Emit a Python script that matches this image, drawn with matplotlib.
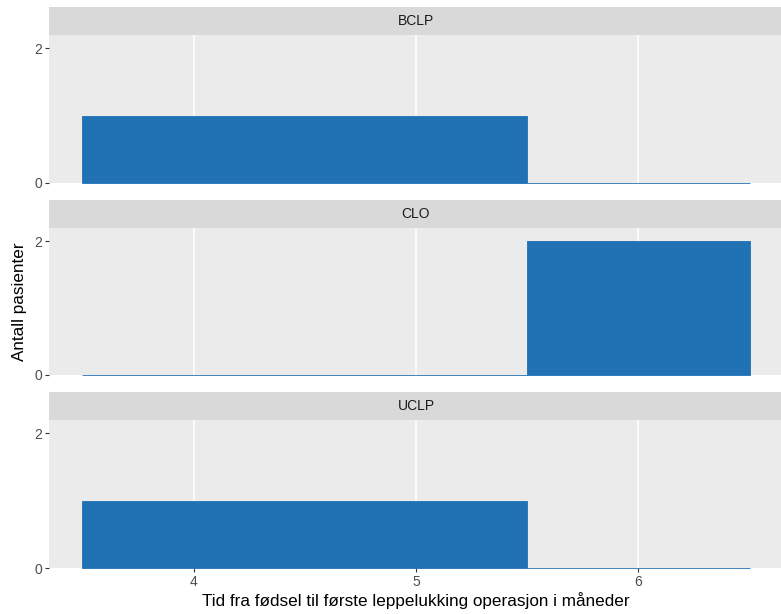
import matplotlib
matplotlib.use('Agg')
import matplotlib.pyplot as plt

# ── data ──
groups     = ['BCLP', 'CLO', 'UCLP']
bin_left   = [3.5, 5.5]
bin_width  = [2.0, 1.0]
counts     = {'BCLP': [1, 0], 'CLO': [0, 2], 'UCLP': [1, 0]}
x_ticks    = [4, 5, 6]
y_ticks    = [0, 2]

C_BAR   = '#2171b5'
C_PANEL = '#EBEBEB'
C_STRIP = '#D9D9D9'
C_TICK  = '#4D4D4D'

plt.rcParams['font.family'] = ['Liberation Sans', 'DejaVu Sans']

W, H = 781, 614
fig = plt.figure(figsize=(W / 100, H / 100), dpi=100)

# pixel layout (top of strip, top of panel, bottom of panel)
rows = [(7, 35, 183), (200, 228, 375), (392, 420, 568)]
left, right = 49, 783

for g, (s_top, p_top, p_bot) in zip(groups, rows):
    ax = fig.add_axes([left / W, 1 - p_bot / H, (right - left) / W, (p_bot - p_top) / H])
    ax.set_facecolor(C_PANEL)
    for s in ax.spines.values():
        s.set_visible(False)
    ax.bar(bin_left, counts[g], width=bin_width, align='edge',
           color=C_BAR, edgecolor=C_BAR, linewidth=0.6, zorder=3, clip_on=False)
    ax.set_xlim(3.35, 6.65)
    ax.set_ylim(0, 2.2)
    ax.set_xticks(x_ticks)
    ax.set_yticks(y_ticks)
    ax.grid(axis='x', color='white', linewidth=1.1, zorder=1)
    ax.tick_params(colors='#333333', labelcolor=C_TICK, labelsize=10,
                   length=3, width=0.8, pad=2)
    if g != groups[-1]:
        ax.tick_params(axis='x', bottom=False, labelbottom=False)

    # facet strip
    sax = fig.add_axes([left / W, 1 - p_top / H, (right - left) / W, (p_top - s_top) / H])
    sax.set_facecolor(C_STRIP)
    sax.set_xticks([])
    sax.set_yticks([])
    for s in sax.spines.values():
        s.set_visible(False)
    sax.text((416 - left) / (right - left), 0.5, g, transform=sax.transAxes,
             ha='center', va='center', fontsize=10, color='#1A1A1A')

fig.text(416 / W, 1 - 601 / H, 'Tid fra fødsel til første leppelukking operasjon i måneder',
         ha='center', va='center', fontsize=12.3, color='black')
fig.text(20 / W, 1 - 302 / H, 'Antall pasienter', rotation=90,
         ha='center', va='center', fontsize=12.3, color='black')

fig.savefig('out.png', dpi=100, facecolor='white')
